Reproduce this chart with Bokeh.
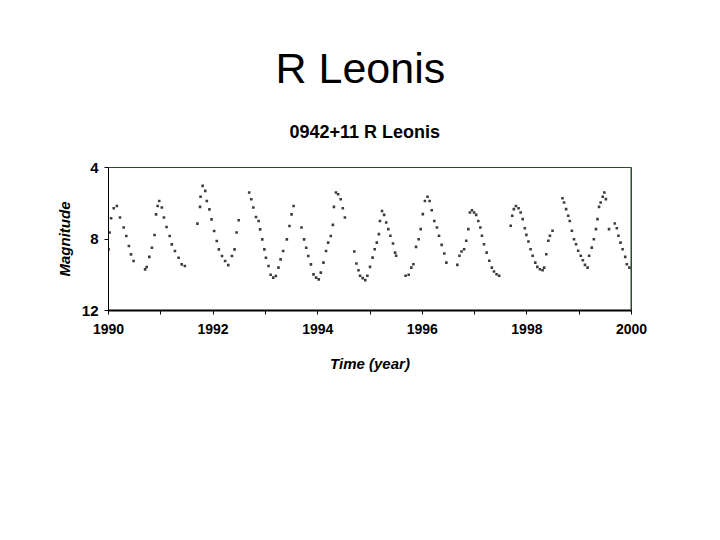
from bokeh.plotting import figure
from bokeh.models import Range1d, FixedTicker, Title, Span
from bokeh.embed import file_html
from bokeh.resources import INLINE

# ---- data ----
time_year = [
    1990.00, 1990.02, 1990.05, 1990.10, 1990.16, 1990.22, 1990.29, 1990.34, 1990.39, 1990.43, 1990.48,
    1990.70, 1990.73, 1990.78, 1990.83, 1990.88, 1990.91, 1990.94, 1990.97, 1991.02, 1991.06, 1991.11,
    1991.17, 1991.21, 1991.27, 1991.34, 1991.40, 1991.46,
    1991.70, 1991.75, 1991.76, 1991.80, 1991.85, 1991.88, 1991.93, 1991.97, 1992.02, 1992.07, 1992.11,
    1992.17, 1992.23, 1992.29, 1992.36, 1992.41, 1992.45, 1992.49,
    1992.69, 1992.73, 1992.77, 1992.82, 1992.87, 1992.90, 1992.94, 1992.98, 1993.01, 1993.06, 1993.10,
    1993.15, 1993.20, 1993.25, 1993.29, 1993.34, 1993.41, 1993.46, 1993.50, 1993.54,
    1993.69, 1993.74, 1993.78, 1993.82, 1993.87, 1993.92, 1993.97, 1994.02, 1994.06, 1994.11, 1994.16,
    1994.20, 1994.25, 1994.29, 1994.31, 1994.35, 1994.39, 1994.44, 1994.48, 1994.52,
    1994.70, 1994.74, 1994.78, 1994.81, 1994.86, 1994.91, 1994.95, 1995.00, 1995.05, 1995.09, 1995.13,
    1995.17, 1995.19, 1995.23, 1995.27, 1995.31, 1995.35, 1995.39, 1995.44, 1995.48, 1995.50,
    1995.68, 1995.74, 1995.79, 1995.83, 1995.88, 1995.93, 1995.97, 1996.01, 1996.05, 1996.10, 1996.14,
    1996.18, 1996.23, 1996.28, 1996.32, 1996.37, 1996.42, 1996.46,
    1996.67, 1996.71, 1996.75, 1996.80, 1996.84, 1996.88, 1996.91, 1996.95, 1996.99, 1997.03, 1997.07,
    1997.11, 1997.14, 1997.18, 1997.23, 1997.28, 1997.33, 1997.37, 1997.42, 1997.47,
    1997.69, 1997.72, 1997.75, 1997.79, 1997.84, 1997.88, 1997.92, 1997.96, 1997.99, 1998.03, 1998.07,
    1998.11, 1998.16, 1998.20, 1998.25, 1998.30, 1998.33, 1998.37, 1998.41, 1998.44, 1998.49,
    1998.68, 1998.71, 1998.75, 1998.79, 1998.82, 1998.86, 1998.90, 1998.94, 1998.98, 1999.03, 1999.07,
    1999.11, 1999.16, 1999.19, 1999.24, 1999.28, 1999.32, 1999.35, 1999.38, 1999.41, 1999.45, 1999.48,
    1999.51,
    1999.57, 1999.68, 1999.72, 1999.75, 1999.79, 1999.83, 1999.88, 1999.91, 1999.96,
]
magnitude = [
    8.58, 7.64, 6.84, 6.28, 6.15, 6.80, 7.36, 7.83, 8.39, 8.86, 9.23,
    9.70, 9.57, 9.00, 8.49, 7.78, 6.62, 6.15, 5.87, 6.24, 6.80, 7.33,
    7.83, 8.30, 8.67, 9.05, 9.42, 9.51,
    7.14, 6.20, 5.64, 5.03, 5.31, 5.87, 6.34, 6.90, 7.55, 8.11, 8.58,
    8.95, 9.23, 9.46, 8.95, 8.58, 7.64, 6.95,
    5.40, 5.78, 6.24, 6.77, 6.99, 7.46, 8.02, 8.58, 9.05, 9.51, 10.00,
    10.16, 10.07, 9.60, 9.14, 8.67, 8.02, 7.27, 6.62, 6.15,
    7.36, 8.02, 8.49, 8.95, 9.42, 9.98, 10.16, 10.26, 9.88, 9.32, 8.67,
    8.20, 7.83, 7.21, 6.20, 5.40, 5.50, 5.78, 6.28, 6.80,
    8.70, 9.37, 9.75, 10.06, 10.19, 10.30, 10.06, 9.56, 9.04, 8.57, 8.20,
    7.73, 6.99, 6.43, 6.65, 7.08, 7.45, 7.82, 8.25, 8.76, 8.94,
    10.06, 10.00, 9.60, 9.41, 8.44, 8.01, 7.45, 6.61, 5.87, 5.64, 5.87,
    6.39, 6.99, 7.36, 7.82, 8.33, 8.81, 9.32,
    9.45, 8.94, 8.70, 8.57, 8.10, 7.45, 6.52, 6.39, 6.52, 6.65, 6.99,
    7.36, 7.82, 8.29, 8.76, 9.22, 9.60, 9.82, 9.97, 10.06,
    7.26, 6.70, 6.33, 6.15, 6.28, 6.52, 6.89, 7.40, 7.77, 8.14, 8.57,
    8.94, 9.32, 9.56, 9.69, 9.75, 9.60, 8.85, 8.10, 7.82, 7.54,
    5.72, 5.96, 6.33, 6.70, 6.99, 7.54, 8.01, 8.29, 8.66, 8.94, 9.19,
    9.45, 9.60, 8.94, 8.48, 8.01, 7.45, 6.89, 6.20, 5.96, 5.64, 5.40,
    5.77,
    7.45, 7.13, 7.40, 7.82, 8.20, 8.57, 9.00, 9.41, 9.60,
]
x_major_ticks = [1990, 1992, 1994, 1996, 1998, 2000]
x_minor_ticks = [1991, 1993, 1995, 1997, 1999]
y_ticks = [4, 8, 12]
slide_title = "R Leonis"
chart_title = "0942+11 R Leonis"
x_label = "Time (year)"
y_label = "Magnitude"

FONT = "Liberation Sans"
GREEN = "#2c4a2c"
W, H = 704, 524
FL, FR, FT, FB = 108, 631, 167, 310   # frame edges in canvas pixels

p = figure(width=W, height=H, output_backend="svg", toolbar_location=None,
           x_range=Range1d(1990, 2000), y_range=Range1d(12, 4),
           min_border_left=FL, min_border_right=W - FR,
           min_border_top=FT, min_border_bottom=H - FB)
p.background_fill_color = "white"
p.border_fill_color = "white"
p.grid.visible = False
p.outline_line_color = GREEN
p.outline_line_width = 1

# slide title (outermost)
p.title.text = slide_title
p.title.align = "left"
p.title.offset = 167
p.title.text_font = FONT
p.title.text_font_style = "normal"
p.title.text_font_size = "43px"
p.title.text_color = "black"
p.title.standoff = 3

# chart title (nearest the frame)
p.add_layout(Title(text=chart_title, align="left", offset=181, text_font=FONT,
                   text_font_style="bold", text_font_size="18px",
                   text_color="black", standoff=52), "above")

p.scatter(time_year, magnitude, marker="square", size=2.6,
          fill_color="#3c3c3c", line_color=None)

p.add_layout(Span(location=2000, dimension="height", line_color=GREEN, line_width=2))

xa = p.xaxis[0]
xa.ticker = FixedTicker(ticks=x_major_ticks, minor_ticks=x_minor_ticks)
xa.axis_line_color = "black"
xa.axis_line_width = 2
xa.major_tick_in = 0
xa.major_tick_out = 4
xa.minor_tick_in = 0
xa.minor_tick_out = 4
xa.major_tick_line_color = "black"
xa.minor_tick_line_color = "black"
xa.major_label_text_font = FONT
xa.major_label_text_font_style = "bold"
xa.major_label_text_font_size = "14px"
xa.major_label_text_color = "black"
xa.major_label_standoff = 9
xa.axis_label = x_label
xa.axis_label_text_font = FONT
xa.axis_label_text_font_style = "bold italic"
xa.axis_label_text_font_size = "15px"
xa.axis_label_text_color = "black"
xa.axis_label_standoff = 18

ya = p.yaxis[0]
ya.ticker = FixedTicker(ticks=y_ticks, minor_ticks=[])
ya.axis_line_color = "black"
ya.axis_line_width = 1
ya.major_tick_in = 0
ya.major_tick_out = 4
ya.major_tick_line_color = "black"
ya.major_label_text_font = FONT
ya.major_label_text_font_style = "bold"
ya.major_label_text_font_size = "15px"
ya.major_label_text_color = "black"
ya.major_label_standoff = 6
ya.axis_label = y_label
ya.axis_label_text_font = FONT
ya.axis_label_text_font_style = "bold italic"
ya.axis_label_text_font_size = "15px"
ya.axis_label_text_color = "black"
ya.axis_label_standoff = 6

open("out.html", "w").write(file_html(p, INLINE))
